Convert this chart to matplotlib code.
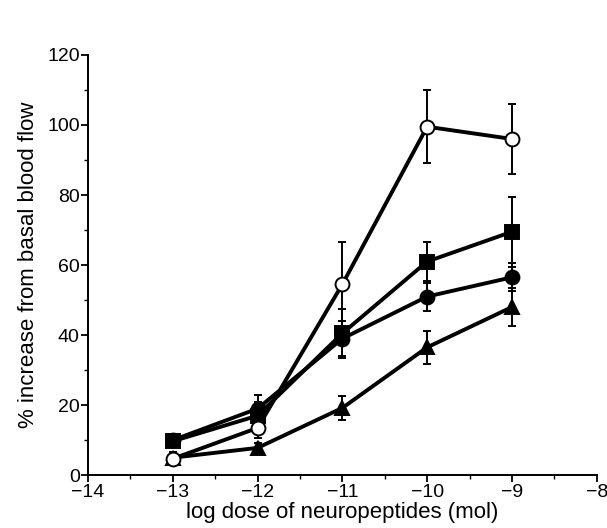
import numpy as np
import matplotlib.pyplot as plt
from matplotlib.ticker import MultipleLocator

plt.rcParams['font.family'] = ['Liberation Sans', 'DejaVu Sans']

dose = [-13, -12, -11, -10, -9]

open_circle = [4.7, 13.5, 54.5, 99.5, 96.0]
open_circle_err = [1.5, 3.0, 12.0, 10.5, 10.0]

square = [9.7, 17.0, 40.5, 61.0, 69.5]
square_err = [1.5, 4.0, 7.0, 5.5, 10.0]

circle = [10.0, 19.0, 39.0, 51.0, 56.5]
circle_err = [1.5, 4.0, 5.0, 4.0, 4.0]

triangle = [5.0, 7.8, 19.2, 36.5, 48.0]
triangle_err = [1.5, 1.5, 3.4, 4.8, 5.5]

fig = plt.figure(figsize=(6.07, 5.28), dpi=100)
ax = fig.add_axes([0.145, 0.100, 0.838, 0.796])

series = [
    (triangle, triangle_err, '^', 'black'),
    (circle, circle_err, 'o', 'black'),
    (square, square_err, 's', 'black'),
    (open_circle, open_circle_err, 'o', 'white'),
]
for y, e, m, fc in series:
    ax.errorbar(dose, y, yerr=e, fmt='none', ecolor='black', elinewidth=1.4,
                capsize=3, capthick=1.4, zorder=2)
    ax.plot(dose, y, color='black', lw=2.8, marker=m, markersize=10,
            markerfacecolor=fc, markeredgecolor='black', markeredgewidth=1.4, zorder=3)

ax.set_xlim(-14, -8)
ax.set_ylim(0, 120)
ax.xaxis.set_major_locator(MultipleLocator(1))
ax.xaxis.set_minor_locator(MultipleLocator(0.5))
ax.yaxis.set_major_locator(MultipleLocator(20))
ax.yaxis.set_minor_locator(MultipleLocator(10))
ax.set_xticks([-14, -13, -12, -11, -10, -9, -8])
ax.set_xticklabels(['\u221214', '\u221213', '\u221212', '\u221211', '\u221210', '\u22129', '\u22128'])

for s in ['top', 'right']:
    ax.spines[s].set_visible(False)
for s in ['left', 'bottom']:
    ax.spines[s].set_linewidth(1.4)

ax.tick_params(axis='both', which='major', direction='out', length=5, width=1.3,
               labelsize=14, pad=1)
ax.tick_params(axis='both', which='minor', direction='out', length=3, width=1.0)

ax.set_xlabel('log dose of neuropeptides (mol)', fontsize=16, labelpad=1)
ax.set_ylabel('% increase from basal blood flow', fontsize=16, labelpad=6)

fig.savefig('out.png', dpi=100)
